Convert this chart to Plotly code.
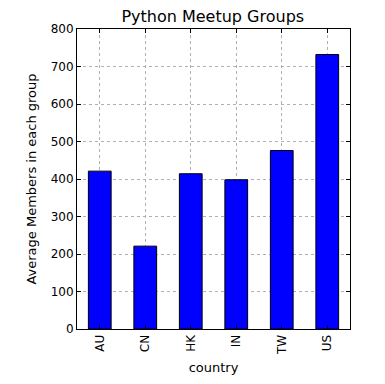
import plotly.graph_objects as go

countries = ["AU", "CN", "HK", "IN", "TW", "US"]
avg_members = [421, 221, 414, 398, 476, 732]

fig = go.Figure(go.Bar(
    x=countries, y=avg_members, width=0.5,
    marker=dict(color="#0000ff", line=dict(color="black", width=1)),
))

axis_common = dict(
    showline=True, linecolor="black", linewidth=1, mirror="ticks",
    ticks="inside", ticklen=4, tickcolor="black",
    showgrid=True, gridcolor="#b0b0b0", griddash="dot", gridwidth=1,
    zeroline=False, automargin=False,
    tickfont=dict(family="DejaVu Sans", size=12, color="black"),
)

# page body has an 8px margin; size the figure so the plot lands where the reference has it
fig.update_layout(
    width=369, height=368,
    margin=dict(l=69, r=27, t=21, b=47, autoexpand=False),
    paper_bgcolor="white", plot_bgcolor="white",
    title=dict(text="Python Meetup Groups", x=0.555, xanchor="center", y=0.978, yanchor="middle",
               font=dict(family="DejaVu Sans", size=16, color="black"), automargin=False),
    xaxis=dict(axis_common, range=[-0.5, 5.5], tickangle=-90,
               title=dict(text="country", font=dict(family="DejaVu Sans", size=13, color="black"), standoff=8)),
    yaxis=dict(axis_common, range=[0, 800], dtick=100,
               title=dict(text="Average Members in each group", font=dict(family="DejaVu Sans", size=13, color="black"), standoff=11)),
    showlegend=False,
)

fig.write_html("out.html")
